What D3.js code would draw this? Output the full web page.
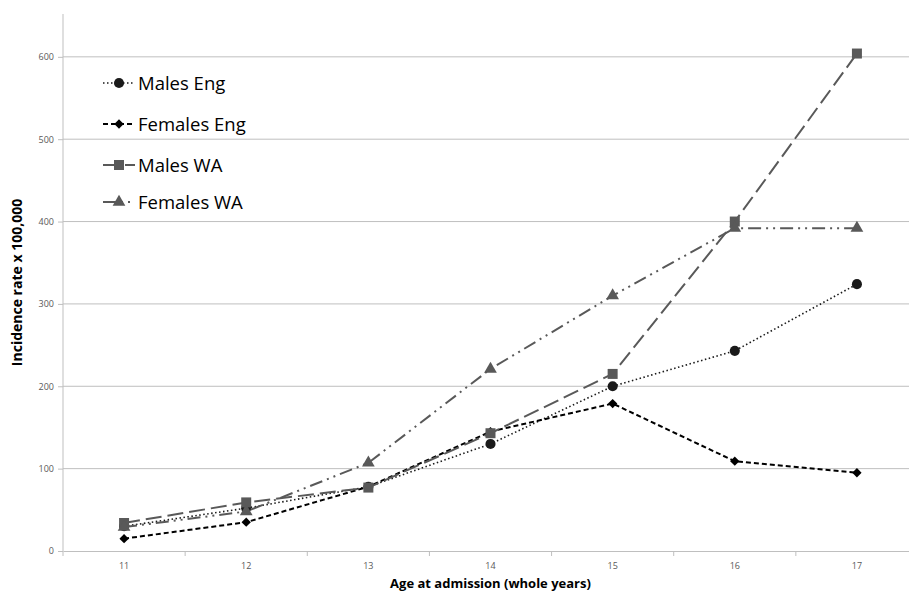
<!DOCTYPE html>
<html>
<head>
<meta charset="utf-8">
<script src="https://cdn.jsdelivr.net/npm/d3@7"></script>
<style>
  body { margin: 0; background: #fff; }
  svg { display: block; }
</style>
</head>
<body>
<div class="svg"></div>
<script>
var ages = ["11", "12", "13", "14", "15", "16", "17"];
var yTicks = [0, 100, 200, 300, 400, 500, 600];
var malesEng   = [30, 52, 78, 130, 200, 243, 324];
var femalesEng = [15, 35, 78, 145, 179, 109, 95];
var malesWA    = [34, 59, 77, 143, 215, 400, 604];
var femalesWA  = [29, 48, 107, 221, 310, 392, 392];
var seriesNames = ["Males Eng", "Females Eng", "Males WA", "Females WA"];

function lineChart(settings) {
  this.w = settings.w;
  this.h = settings.h;
  this.margin = settings.margin;
  this.appendSvg('div.svg');
  this.drawAxes();
  this.drawSeries();
  this.drawLegend();
}

lineChart.prototype.appendSvg = function (selector) {
  this.svg = d3.select(selector || 'body')
    .append('svg')
    .attr('width', this.w)
    .attr('height', this.h);
  // band range runs past the right edge, as in the cropped original
  this.x = d3.scaleBand().domain(ages).range([this.margin.left, 918]);
  this.y = d3.scaleLinear().domain([0, 652]).range([551, 14]);
};

lineChart.prototype.drawAxes = function () {
  var x = this.x, y = this.y, svg = this.svg;
  var grid = svg.append('g');
  grid.selectAll('line')
    .data(yTicks.slice(1))
    .enter().append('line')
    .attr('x1', x.range()[0]).attr('x2', x.range()[1])
    .attr('y1', function (d) { return y(d); })
    .attr('y2', function (d) { return y(d); })
    .attr('stroke', '#bfbfbf').attr('stroke-width', 1);

  var yAxis = svg.append('g')
    .attr('transform', 'translate(' + x.range()[0] + ',0)')
    .call(d3.axisLeft(y).tickValues(yTicks).tickSize(5).tickPadding(4));
  var xAxis = svg.append('g')
    .attr('transform', 'translate(0,' + y(0) + ')')
    .call(d3.axisBottom(x).tickSize(0).tickPadding(12));
  xAxis.selectAll('.xtick')
    .data(ages)
    .enter().append('line')
    .attr('x1', function (d) { return x(d); })
    .attr('x2', function (d) { return x(d); })
    .attr('y1', 0).attr('y2', 5)
    .attr('stroke', '#bfbfbf');

  [xAxis, yAxis].forEach(function (g) {
    g.select('.domain').attr('stroke', '#bfbfbf');
    g.selectAll('.tick line').attr('stroke', '#bfbfbf');
    g.selectAll('.tick text')
      .attr('fill', '#595959')
      .attr('font-family', 'Open Sans, sans-serif')
      .attr('font-size', '9px');
  });
  yAxis.select('.domain').attr('d', 'M0,' + y(652) + 'V' + y(0));
  xAxis.selectAll('.tick line').remove();

  svg.append('text')
    .text('Incidence rate x 100,000')
    .attr('transform', 'translate(22,' + y(326) + ') rotate(-90)')
    .attr('text-anchor', 'middle')
    .attr('font-family', 'Open Sans, sans-serif')
    .attr('font-weight', 'bold')
    .attr('font-size', '14px')
    .attr('fill', '#000');
  svg.append('text')
    .text('Age at admission (whole years)')
    .attr('x', (x.range()[0] + x.range()[1]) / 2)
    .attr('y', 588)
    .attr('text-anchor', 'middle')
    .attr('font-family', 'Open Sans, sans-serif')
    .attr('font-weight', 'bold')
    .attr('font-size', '13px')
    .attr('fill', '#000');
};

lineChart.styles = [
  { color: '#1a1a1a', dash: '1.5,2.5', width: 1.6, symbol: d3.symbolCircle, size: 80 },
  { color: '#000000', dash: '5,3', width: 2, symbol: d3.symbolDiamond2, size: 55 },
  { color: '#595959', dash: '16,6', width: 2, symbol: d3.symbolSquare, size: 100 },
  { color: '#595959', dash: '13,5,2,5,2,5', width: 2, symbol: d3.symbolTriangle, size: 70 }
];

lineChart.prototype.drawSeries = function () {
  var x = this.x, y = this.y, svg = this.svg;
  var cx = function (i) { return x(ages[i]) + x.bandwidth() / 2; };
  var data = [malesEng, femalesEng, malesWA, femalesWA];
  var line = d3.line()
    .x(function (d, i) { return cx(i); })
    .y(function (d) { return y(d); });
  data.forEach(function (vals, k) {
    var s = lineChart.styles[k];
    svg.append('path')
      .attr('d', line(vals))
      .attr('fill', 'none')
      .attr('stroke', s.color)
      .attr('stroke-width', s.width)
      .attr('stroke-dasharray', s.dash);
    svg.selectAll('.m' + k)
      .data(vals)
      .enter().append('path')
      .attr('d', d3.symbol().type(s.symbol).size(s.size))
      .attr('transform', function (d, i) { return 'translate(' + cx(i) + ',' + y(d) + ')'; })
      .attr('fill', s.color);
  });
};

lineChart.prototype.drawLegend = function () {
  var svg = this.svg;
  var rows = [83, 124, 165, 202];
  seriesNames.forEach(function (name, k) {
    var s = lineChart.styles[k];
    var g = svg.append('g').attr('transform', 'translate(103,' + rows[k] + ')');
    g.append('line')
      .attr('x1', 0).attr('x2', 32).attr('y1', 0).attr('y2', 0)
      .attr('stroke', s.color)
      .attr('stroke-width', s.width)
      .attr('stroke-dasharray', s.dash);
    g.append('path')
      .attr('d', d3.symbol().type(s.symbol).size(s.size))
      .attr('transform', 'translate(16,0)')
      .attr('fill', s.color);
    g.append('text')
      .text(name)
      .attr('x', 35).attr('y', 7)
      .attr('font-family', 'Open Sans, sans-serif')
      .attr('font-size', '18.5px')
      .attr('fill', '#000');
  });
};

var chart = new lineChart({
  w: 909,
  h: 592,
  margin: { left: 63 }
});
</script>
</body>
</html>
